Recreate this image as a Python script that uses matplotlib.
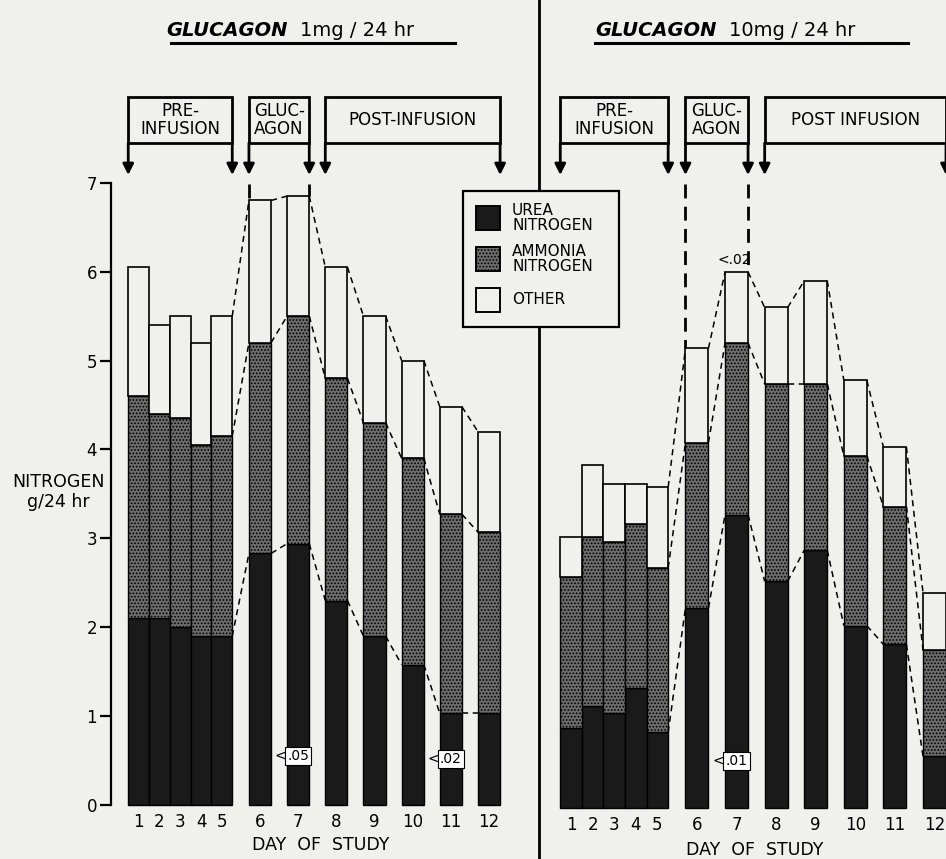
import matplotlib.pyplot as plt
import numpy as np
from matplotlib.patches import Rectangle
from matplotlib.transforms import blended_transform_factory

plt.rcParams['font.family'] = 'DejaVu Sans'
plt.rcParams['hatch.linewidth'] = 0.8
plt.rcParams['hatch.color'] = '#3a3a3a'

days = list(range(1, 13))

# glucagon 1 mg/24 hr  (g N / 24 hr)
urea_1mg = [2.10, 2.10, 2.00, 1.90, 1.90, 2.83, 2.94, 2.30, 1.90, 1.58, 1.03, 1.03]
ammonia_1mg = [2.50, 2.30, 2.35, 2.15, 2.25, 2.37, 2.56, 2.50, 2.40, 2.32, 2.24, 2.04]
other_1mg = [1.45, 1.00, 1.15, 1.15, 1.35, 1.60, 1.35, 1.25, 1.20, 1.10, 1.21, 1.13]

# glucagon 10 mg/24 hr
urea_10mg = [0.90, 1.15, 1.07, 1.35, 0.85, 2.25, 3.30, 2.55, 2.90, 2.05, 1.84, 0.58]
ammonia_10mg = [1.70, 1.90, 1.92, 1.84, 1.85, 1.86, 1.93, 2.22, 1.87, 1.91, 1.55, 1.20]
other_10mg = [0.45, 0.81, 0.66, 0.46, 0.91, 1.06, 0.80, 0.86, 1.16, 0.85, 0.67, 0.64]

# p-value notes: (day, y, text)
notes_1mg = [(7, 0.55, '.05'), (11, 0.52, '.02')]
notes_10mg = [(7, 0.53, '.01')]

BG = '#f0f0ec'
UREA_C = '#1a1a1a'
AMM_C = '#6c6c6c'

W, H = 946, 859
fig = plt.figure(figsize=(W / 100, H / 100), dpi=100)
fig.patch.set_facecolor(BG)

# pre-infusion days packed side by side, the rest spaced out
x = np.array([5 - 0.545 * (5 - d) for d in days[:5]] + days[5:], dtype=float)
w = np.array([0.545] * 5 + [0.58] * 7)
left_edge = x - w / 2
right_edge = x + w / 2

DASH = (0, (4, 3))


def panel(ax, urea, ammonia, other):
    urea = np.array(urea)
    ammonia = np.array(ammonia)
    other = np.array(other)
    ax.bar(x, urea, w, color=UREA_C, edgecolor='k', lw=1)
    ax.bar(x, ammonia, w, bottom=urea, color=AMM_C, hatch='.....',
           edgecolor='k', lw=1)
    ax.bar(x, other, w, bottom=urea + ammonia, color=BG, edgecolor='k', lw=1.2)
    for lvl in [urea, urea + ammonia, urea + ammonia + other]:
        for i in range(4, 11):
            ax.plot([right_edge[i], left_edge[i + 1]], [lvl[i], lvl[i + 1]],
                    ls=DASH, color='k', lw=1.1)
    return urea + ammonia + other


def periods(ax, labels):
    tr = blended_transform_factory(ax.transData, fig.transFigure)
    spans = [(left_edge[0], right_edge[4]), (left_edge[5], right_edge[6]),
             (left_edge[7], right_edge[11])]
    y0, y1, tip = 1 - 143 / H, 1 - 97 / H, 1 - 175 / H
    for (a, b), lab in zip(spans, labels):
        ax.add_patch(Rectangle((a, y0), b - a, y1 - y0, transform=tr,
                               fill=False, lw=2, ec='k', clip_on=False))
        ax.text((a + b) / 2, (y0 + y1) / 2, lab, transform=tr, ha='center',
                va='center', fontsize=12, linespacing=0.95, clip_on=True)
        for xx in (a, b):
            ax.annotate('', xy=(xx, tip), xytext=(xx, y0), xycoords=tr,
                        textcoords=tr,
                        arrowprops=dict(arrowstyle='-|>', lw=2, color='k',
                                        mutation_scale=16, shrinkA=0,
                                        shrinkB=0))
    return tr, tip


def glucagon_marks(ax, tr, tip, total):
    y_tip = ax.transData.inverted().transform(
        tr.transform((0, tip)))[1]
    for xx, top in ((left_edge[5], total[5]), (right_edge[6], total[6])):
        ax.plot([xx, xx], [y_tip - 0.1, top], ls=(0, (5, 3)), color='k', lw=2)


def notes(ax, items):
    for d, y, t in items:
        i = days.index(d)
        ax.text(left_edge[i] - 0.03, y, '<', ha='right', va='center',
                fontsize=10)
        ax.text(x[i], y, t, ha='center', va='center', fontsize=10,
                bbox=dict(boxstyle='square,pad=0.15', fc='white', ec='k',
                          lw=0.8))


# left panel: 1 mg
ax1 = fig.add_axes([0, 0, 540 / W, 1])
ax1.set_facecolor('none')
ax1.set_xlim(-0.812, 13.335)
ax1.set_ylim(-0.607, 9.055)
tot1 = panel(ax1, urea_1mg, ammonia_1mg, other_1mg)
tr1, tip1 = periods(ax1, ['PRE-\nINFUSION', 'GLUC-\nAGON', 'POST-INFUSION'])
glucagon_marks(ax1, tr1, tip1, tot1)
notes(ax1, notes_1mg)
for s in ['top', 'right']:
    ax1.spines[s].set_visible(False)
ax1.spines['bottom'].set_position(('data', 0))
ax1.spines['bottom'].set_visible(False)
ax1.spines['left'].set_position(('data', 2.096))
ax1.spines['left'].set_bounds(0, 7)
ax1.spines['left'].set_linewidth(1.6)
ax1.set_yticks(range(8))
ax1.tick_params(axis='y', direction='out', length=8, width=1.6,
                labelsize=12, pad=2)
ax1.set_xticks(x)
ax1.set_xticklabels([str(d) for d in days])
ax1.tick_params(axis='x', length=0, labelsize=12, pad=6)

# right panel: 10 mg
ax2 = fig.add_axes([540 / W, 0, 1 - 540 / W, 1])
ax2.set_facecolor('none')
ax2.set_xlim(2.035, 12.29)
ax2.set_ylim(-0.574, 9.089)
tot2 = panel(ax2, urea_10mg, ammonia_10mg, other_10mg)
tr2, tip2 = periods(ax2, ['PRE-\nINFUSION', 'GLUC-\nAGON', 'POST INFUSION'])
glucagon_marks(ax2, tr2, tip2, tot2)
notes(ax2, notes_10mg)
ax2.text(x[6] - 0.05, tot2[6] + 0.05, '<.02', ha='center', va='bottom',
         fontsize=10)
for s in ['top', 'right', 'left']:
    ax2.spines[s].set_visible(False)
ax2.spines['bottom'].set_position(('data', 0))
ax2.spines['bottom'].set_visible(False)
ax2.set_yticks([])
ax2.set_xticks(x)
ax2.set_xticklabels([str(d) for d in days])
ax2.tick_params(axis='x', length=0, labelsize=12, pad=6)

# overlay in pixel units for titles, legend, labels, divider
ov = fig.add_axes([0, 0, 1, 1])
ov.set_xlim(0, W)
ov.set_ylim(H, 0)
ov.axis('off')
ov.patch.set_alpha(0)

ov.plot([539, 539], [0, H], color='k', lw=2)

ov.text(288, 31, 'GLUCAGON', ha='right', va='center', fontsize=14,
        fontweight='bold', style='italic')
ov.text(300, 31, '1mg / 24 hr', ha='left', va='center', fontsize=14)
ov.plot([171, 455], [43, 43], color='k', lw=2.2)
ov.text(717, 31, 'GLUCAGON', ha='right', va='center', fontsize=14,
        fontweight='bold', style='italic')
ov.text(729, 31, '10mg / 24 hr', ha='left', va='center', fontsize=14)
ov.plot([595, 908], [43, 43], color='k', lw=2.2)

ov.text(58, 492, 'NITROGEN\ng/24 hr', ha='center', va='center', fontsize=12.5,
        linespacing=1.1)
ov.text(321, 845, 'DAY  OF  STUDY', ha='center', va='center', fontsize=12.5)
ov.text(755, 850, 'DAY  OF  STUDY', ha='center', va='center', fontsize=12.5)

# legend
ov.add_patch(Rectangle((463, 191), 156, 136, fc=BG, ec='k', lw=1.6, zorder=5))
legend_items = [('UREA\nNITROGEN', UREA_C, None),
                ('AMMONIA\nNITROGEN', AMM_C, '.....'),
                ('OTHER', BG, None)]
for k, (lab, col, hat) in enumerate(legend_items):
    yc = 218 + 41 * k
    ov.add_patch(Rectangle((476, yc - 12), 24, 24, fc=col, ec='k', lw=1.4,
                           hatch=hat, zorder=6))
    ov.text(512, yc, lab, ha='left', va='center', fontsize=11,
            linespacing=1.0, zorder=7)

fig.savefig('out.png', dpi=100, facecolor=BG)
